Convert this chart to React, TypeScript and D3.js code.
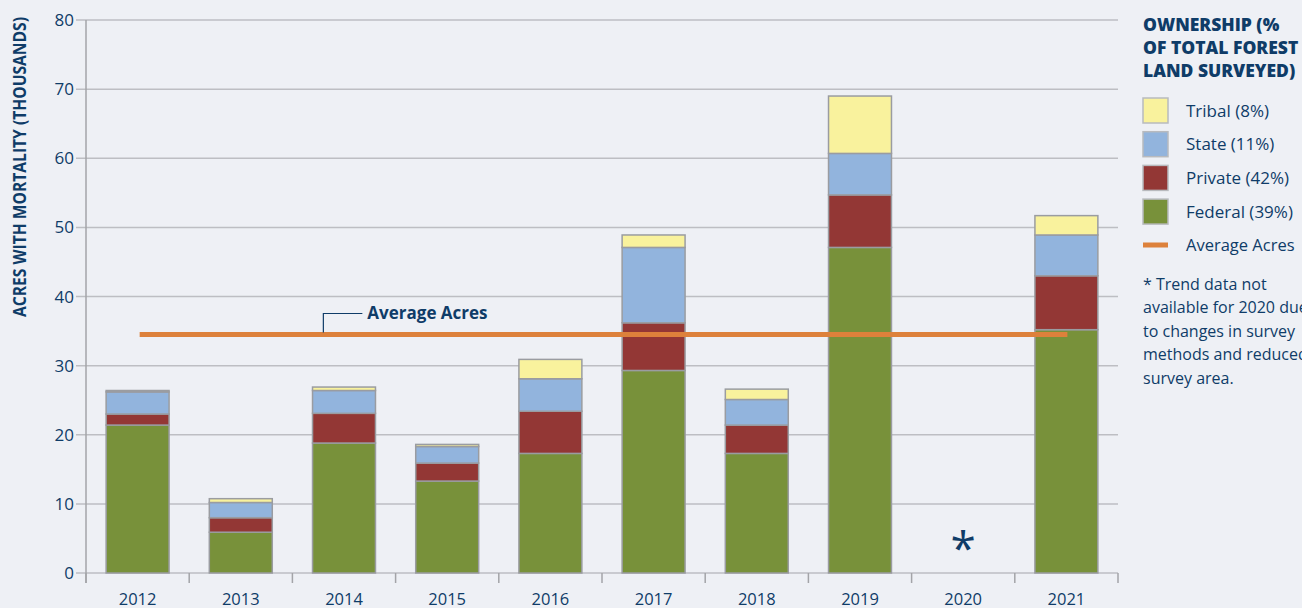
import { useEffect, useRef } from "react";
import * as d3 from "d3";

// acres with mortality, thousands, per ownership
const years = ["2012", "2013", "2014", "2015", "2016", "2017", "2018", "2019", "2020", "2021"];
const federal = [21.4, 5.9, 18.8, 13.3, 17.3, 29.3, 17.3, 47.1, null, 35.2];
const privateLand = [1.6, 2.1, 4.3, 2.6, 6.1, 6.9, 4.1, 7.6, null, 7.8];
const state = [3.2, 2.2, 3.3, 2.4, 4.7, 10.9, 3.7, 6.0, null, 5.9];
const tribal = [0.2, 0.55, 0.5, 0.3, 2.8, 1.8, 1.5, 8.3, null, 2.8];
const averageAcres = 34.5;
const yTicks = [0, 10, 20, 30, 40, 50, 60, 70, 80];

const seriesKeys = ["federal", "private", "state", "tribal"];
const legendItems = [
  { label: "Tribal (8%)", key: "tribal" },
  { label: "State (11%)", key: "state" },
  { label: "Private (42%)", key: "private" },
  { label: "Federal (39%)", key: "federal" },
];
const colors: Record<string, string> = {
  federal: "#78913a",
  private: "#933735",
  state: "#92b4dd",
  tribal: "#f9f29d",
};
const navy = "#0f3c68";
const font = "'Open Sans', 'Noto Sans', sans-serif";

const App = () => {
  const svgRef = useRef<SVGSVGElement>(null);

  useEffect(() => {
    const W = 1302;
    const H = 608;
    const margin = { top: 20, right: 184, bottom: 35, left: 86 };

    d3.select(svgRef.current).selectAll("*").remove();
    const svg = d3.select(svgRef.current).attr("width", W).attr("height", H);

    const rows = years.map((y, i) => ({
      year: y,
      federal: federal[i] ?? 0,
      private: privateLand[i] ?? 0,
      state: state[i] ?? 0,
      tribal: tribal[i] ?? 0,
      missing: federal[i] === null,
    }));

    const x = d3
      .scaleBand()
      .domain(years)
      .range([margin.left, W - margin.right])
      .paddingInner(0.39)
      .paddingOuter(0.195);
    const step = x.step();
    const y = d3.scaleLinear().domain([0, 80]).range([H - margin.bottom, margin.top]);
    const x0 = margin.left;
    const x1 = W - margin.right;

    // gridlines + left ticks
    svg
      .append("g")
      .selectAll("line")
      .data(yTicks)
      .enter()
      .append("line")
      .attr("x1", x0 - 10)
      .attr("x2", x1)
      .attr("y1", (d) => y(d))
      .attr("y2", (d) => y(d))
      .attr("stroke", "#bdbec3")
      .attr("stroke-width", 1.5);

    svg
      .append("g")
      .selectAll("text")
      .data(yTicks)
      .enter()
      .append("text")
      .attr("x", x0 - 12)
      .attr("y", (d) => y(d))
      .attr("dy", "0.36em")
      .attr("text-anchor", "end")
      .style("font-family", font)
      .style("font-size", "17px")
      .attr("fill", navy)
      .text((d) => d);

    // y axis line
    svg
      .append("line")
      .attr("x1", x0)
      .attr("x2", x0)
      .attr("y1", y(80))
      .attr("y2", y(0) + 10)
      .attr("stroke", "#a3a4a8")
      .attr("stroke-width", 1.5);

    // x category boundary ticks
    const bounds = d3.range(years.length + 1).map((i) => x0 + i * step);
    svg
      .append("g")
      .selectAll("line")
      .data(bounds)
      .enter()
      .append("line")
      .attr("x1", (d) => d)
      .attr("x2", (d) => d)
      .attr("y1", y(0))
      .attr("y2", y(0) + 10)
      .attr("stroke", "#a3a4a8")
      .attr("stroke-width", 1.5);

    svg
      .append("g")
      .selectAll("text")
      .data(years)
      .enter()
      .append("text")
      .attr("x", (d) => x(d)! + x.bandwidth() / 2)
      .attr("y", 605)
      .attr("text-anchor", "middle")
      .style("font-family", font)
      .style("font-size", "16.5px")
      .attr("fill", navy)
      .text((d) => d);

    // stacked bars
    const stacked = d3.stack<any>().keys(seriesKeys)(rows);
    stacked.forEach((layer) => {
      svg
        .append("g")
        .selectAll("rect")
        .data(layer.filter((d) => !d.data.missing))
        .enter()
        .append("rect")
        .attr("x", (d) => x(d.data.year)!)
        .attr("y", (d) => y(d[1]))
        .attr("width", x.bandwidth())
        .attr("height", (d) => y(d[0]) - y(d[1]))
        .attr("fill", colors[layer.key])
        .attr("stroke", "#9a9ca1")
        .attr("stroke-width", 1.5);
    });

    // missing year marker
    rows
      .filter((r) => r.missing)
      .forEach((r) => {
        svg
          .append("text")
          .attr("x", x(r.year)! + x.bandwidth() / 2)
          .attr("y", 565)
          .attr("text-anchor", "middle")
          .style("font-family", font)
          .style("font-size", "46px")
          .attr("fill", navy)
          .text("*");
      });

    // average line
    const avgStart = x0 + step * 0.52;
    const avgEnd = x(years[years.length - 1])! + x.bandwidth() / 2 + 1;
    svg
      .append("line")
      .attr("x1", avgStart)
      .attr("x2", avgEnd)
      .attr("y1", y(averageAcres))
      .attr("y2", y(averageAcres))
      .attr("stroke", "#dd813b")
      .attr("stroke-width", 5);

    const leadX = x0 + step * 2.3;
    svg
      .append("path")
      .attr("d", `M${leadX},${y(averageAcres) - 2}V${y(averageAcres) - 21}H${leadX + 39}`)
      .attr("fill", "none")
      .attr("stroke", navy)
      .attr("stroke-width", 1.2);
    svg
      .append("text")
      .attr("x", leadX + 44)
      .attr("y", y(averageAcres) - 22)
      .attr("dy", "0.36em")
      .style("font-family", font)
      .style("font-size", "17px")
      .style("font-weight", "bold")
      .attr("fill", navy)
      .text("Average Acres");

    // y axis title
    svg
      .append("text")
      .attr("transform", `translate(26,167) rotate(-90)`)
      .attr("text-anchor", "middle")
      .style("font-family", font)
      .style("font-size", "18px")
      .style("font-weight", "bold")
      .attr("fill", navy)
      .attr("textLength", 300)
      .attr("lengthAdjust", "spacingAndGlyphs")
      .text("ACRES WITH MORTALITY (THOUSANDS)");

    // legend
    const lx = 1143;
    const lg = svg.append("g");
    ["OWNERSHIP (%", "OF TOTAL FOREST", "LAND SURVEYED)"].forEach((t, i) => {
      lg.append("text")
        .attr("x", lx)
        .attr("y", 25 + i * 23)
        .attr("dy", "0.36em")
        .style("font-family", font)
        .style("font-size", "17.5px")
        .style("font-weight", 800)
        .attr("fill", navy)
        .text(t);
    });
    legendItems.forEach((item, i) => {
      const cy = 110.5 + i * 33.7;
      lg.append("rect")
        .attr("x", lx)
        .attr("y", cy - 12.5)
        .attr("width", 25)
        .attr("height", 25)
        .attr("fill", colors[item.key])
        .attr("stroke", "#b8babe")
        .attr("stroke-width", 1.5);
      lg.append("text")
        .attr("x", 1186)
        .attr("y", cy)
        .attr("dy", "0.36em")
        .style("font-family", font)
        .style("font-size", "17px")
        .attr("fill", navy)
        .text(item.label);
    });
    lg.append("line")
      .attr("x1", lx)
      .attr("x2", lx + 25)
      .attr("y1", 245)
      .attr("y2", 245)
      .attr("stroke", "#dd813b")
      .attr("stroke-width", 5);
    lg.append("text")
      .attr("x", 1186)
      .attr("y", 245)
      .attr("dy", "0.36em")
      .style("font-family", font)
      .style("font-size", "16.5px")
      .attr("fill", navy)
      .text("Average Acres");

    const note = [
      "* Trend data not",
      "available for 2020 due",
      "to changes in survey",
      "methods and reduced",
      "survey area.",
    ];
    note.forEach((t, i) => {
      lg.append("text")
        .attr("x", lx)
        .attr("y", 284 + i * 23.5)
        .attr("dy", "0.36em")
        .style("font-family", font)
        .style("font-size", "16px")
        .attr("fill", navy)
        .text(t);
    });
  }, []);

  return (
    <div style={{ background: "#eef0f5", width: 1302, height: 608, overflow: "hidden" }}>
      <style>{"body{margin:0;background:#eef0f5;}"}</style>
      <svg ref={svgRef} style={{ display: "block" }}></svg>
    </div>
  );
};

export default App;
